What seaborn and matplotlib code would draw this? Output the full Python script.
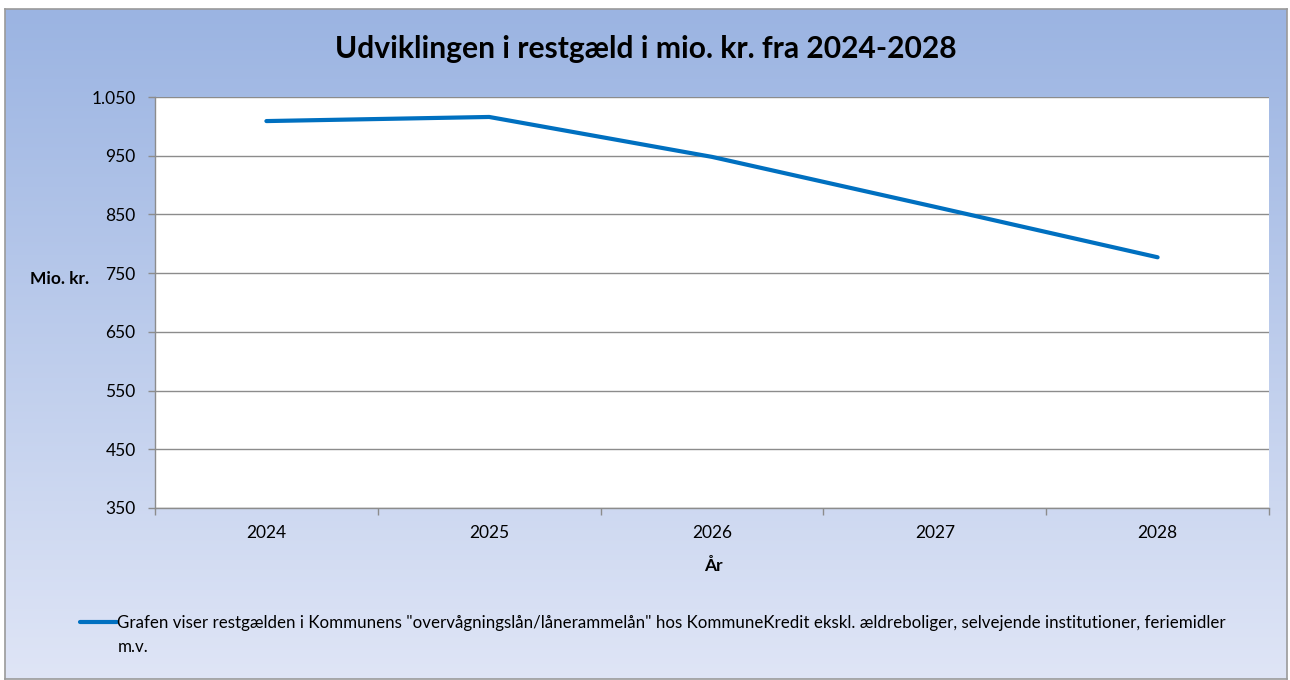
import numpy as np
import pandas as pd
import matplotlib
matplotlib.use("Agg")
import matplotlib.pyplot as plt
import seaborn as sns
from matplotlib.ticker import FuncFormatter, FixedLocator, MultipleLocator

# ---- data ----
years = ["2024", "2025", "2026", "2027", "2028"]
restgaeld = [1009, 1016, 948, 863, 777]
y_ticks = [350, 450, 550, 650, 750, 850, 950, 1050]
title = "Udviklingen i restgæld i mio. kr. fra 2024-2028"
y_label = "Mio. kr."
x_label = "År"
series_label = ("Grafen viser restgælden i Kommunens \"overvågningslån/lånerammelån\" hos "
                "KommuneKredit ekskl. ældreboliger, selvejende institutioner, feriemidler\nm.v.")

df = pd.DataFrame({"År": years, "Restgæld": restgaeld})

sns.set_theme(style="white")
FONT = ["Lato", "DejaVu Sans"]
plt.rcParams["font.family"] = FONT
plt.rcParams["text.color"] = "black"

W, H = 1290, 680
fig = plt.figure(figsize=(W / 100, H / 100), dpi=100, facecolor="white")

# background gradient panel with border
bx0, by0, bx1, by1 = 5, 9, 1287, 679
bg = fig.add_axes([bx0 / W, 1 - by1 / H, (bx1 - bx0) / W, (by1 - by0) / H], zorder=0)
top_c = np.array([155, 180, 226]) / 255
bot_c = np.array([223, 229, 246]) / 255
t = np.linspace(0, 1, 256)[:, None, None]
grad = top_c[None, None, :] * (1 - t) + bot_c[None, None, :] * t
bg.imshow(grad, aspect="auto", extent=[0, 1, 0, 1])
bg.set_xticks([]); bg.set_yticks([])
for s in bg.spines.values():
    s.set_color("#9a9a9a"); s.set_linewidth(1.2)

# main axes
L, R, T, B = 155, 1269, 97, 508
ax = fig.add_axes([L / W, 1 - B / H, (R - L) / W, (B - T) / H], zorder=1)
ax.set_facecolor("white")

sns.lineplot(data=df, x="År", y="Restgæld", ax=ax, color="#0070C0", linewidth=3.0,
             label=series_label, legend=False, solid_capstyle="round")

ax.set_xlim(-0.5, len(years) - 0.5)
ax.set_ylim(y_ticks[0], y_ticks[-1])
ax.yaxis.set_major_locator(FixedLocator(y_ticks))
ax.yaxis.set_major_formatter(FuncFormatter(lambda v, p: f"{int(v):,}".replace(",", ".")))
ax.grid(axis="y", color="#8c8c8c", linewidth=1.0)
ax.grid(axis="x", visible=False)
ax.set_axisbelow(True)

ax.xaxis.set_minor_locator(MultipleLocator(1, offset=0.5))
ax.tick_params(axis="x", which="major", length=0, pad=12, labelsize=12.5, labelcolor="black")
ax.tick_params(axis="x", which="minor", length=5, width=1, color="#8c8c8c", direction="out", bottom=True)
ax.tick_params(axis="y", which="major", length=5, width=1, color="#8c8c8c", direction="out",
               left=True, pad=9, labelsize=12.5, labelcolor="black")

for side in ["top", "right"]:
    ax.spines[side].set_visible(False)
for side in ["left", "bottom"]:
    ax.spines[side].set_color("#8c8c8c")
    ax.spines[side].set_linewidth(1.0)

ax.set_xlabel("")
ax.set_ylabel("")

fig.text(60 / W, 1 - 279 / H, y_label, ha="center", va="center", fontsize=12.5,
         fontweight="bold", family=FONT, color="black")
fig.text(713 / W, 1 - 566 / H, x_label, ha="center", va="center", fontsize=12.5,
         fontweight="bold", family=FONT, color="black")
fig.text(646 / W, 1 - 49 / H, title, ha="center", va="center", fontsize=21.6,
         fontweight="bold", family=FONT, color="black")

handles, labels = ax.get_legend_handles_labels()
leg = fig.legend(handles, labels, loc="upper left", bbox_to_anchor=(80 / W, 1 - 615 / H),
                 frameon=False, fontsize=12.2, handlelength=2.2, handletextpad=0.0,
                 borderpad=0, borderaxespad=0, labelspacing=0)
for txt in leg.get_texts():
    txt.set_color("black")
    txt.set_linespacing(1.6)
# align the legend key with the first text line (as in the original)
for ln in leg.get_lines():
    ln.set_ydata(np.asarray(ln.get_ydata(), dtype=float) + 10.0)

fig.savefig("out.png", dpi=100, facecolor="white")
